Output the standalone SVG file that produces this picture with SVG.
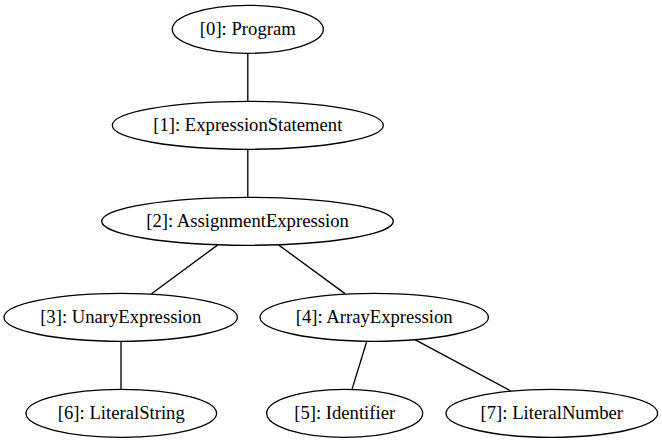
<svg xmlns="http://www.w3.org/2000/svg" width="662" height="443" viewBox="0 0 662 443">
<style>
ellipse{fill:none;stroke:#000;stroke-width:1.33}
text{font-family:"Liberation Serif","Times New Roman",serif;font-size:18.67px;text-anchor:middle;fill:#000}
#edges line{stroke:#000;stroke-width:1.33}
</style>
<rect width="662" height="443" fill="#fff"/>
<g id="edges">
<line x1="247.8" y1="53.3" x2="247.8" y2="101.3"/>
<line x1="247.8" y1="149.3" x2="247.8" y2="197.3"/>
<line x1="217.8" y1="244.9" x2="151.5" y2="293.8"/>
<line x1="278.5" y1="244.9" x2="345" y2="293.6"/>
<line x1="121" y1="341.3" x2="121" y2="389.3"/>
<line x1="366.8" y1="341.2" x2="352" y2="389.4"/>
<line x1="415.4" y1="339.8" x2="510.9" y2="391"/>
</g>
<g id="n0"><ellipse cx="247.8" cy="29.3" rx="75.5" ry="24"/><text x="247.8" y="34.9">[0]: Program</text></g>
<g id="n1"><ellipse cx="247.8" cy="125.3" rx="135.5" ry="24"/><text x="247.8" y="130.9">[1]: ExpressionStatement</text></g>
<g id="n2"><ellipse cx="247.5" cy="221.3" rx="145.8" ry="24"/><text x="247.5" y="226.9">[2]: AssignmentExpression</text></g>
<g id="n3"><ellipse cx="120.7" cy="317.3" rx="116.7" ry="24"/><text x="120.7" y="322.9">[3]: UnaryExpression</text></g>
<g id="n4"><ellipse cx="374.2" cy="317.3" rx="114.2" ry="24"/><text x="374.2" y="322.9">[4]: ArrayExpression</text></g>
<g id="n6"><ellipse cx="121.3" cy="413.3" rx="95.3" ry="24"/><text x="121.3" y="418.9">[6]: LiteralString</text></g>
<g id="n5"><ellipse cx="344.7" cy="413.3" rx="78" ry="24"/><text x="344.7" y="418.9">[5]: Identifier</text></g>
<g id="n7"><ellipse cx="551.8" cy="413.3" rx="105.8" ry="24"/><text x="551.8" y="418.9">[7]: LiteralNumber</text></g>
</svg>
